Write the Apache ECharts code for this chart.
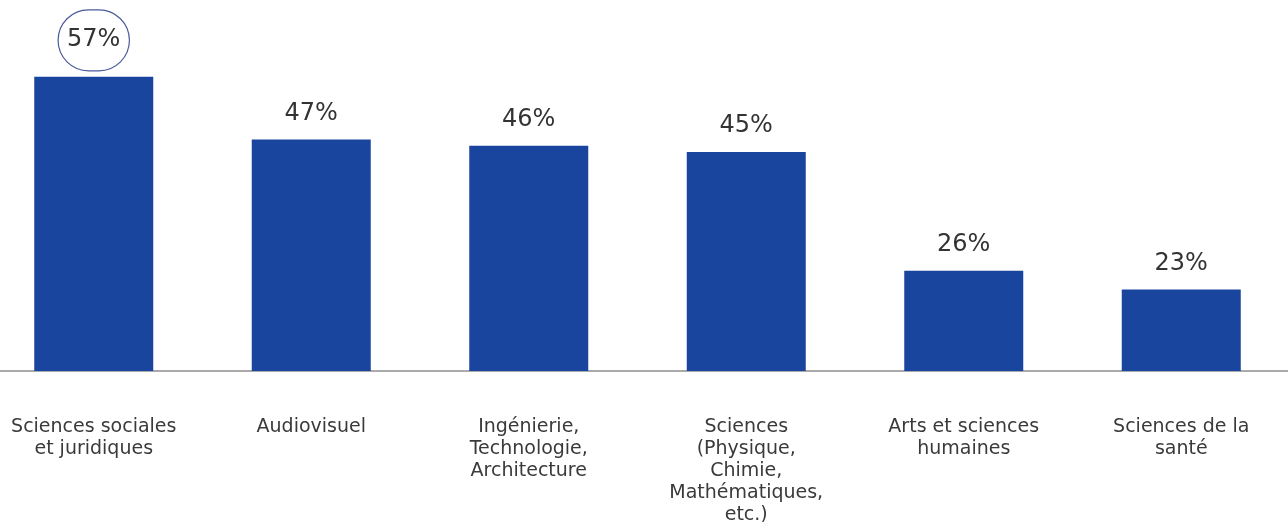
<!DOCTYPE html>
<html>
<head>
<meta charset="utf-8">
<script src="https://cdn.jsdelivr.net/npm/echarts@6/dist/echarts.min.js"></script>
<style>
  html, body { margin: 0; padding: 0; background: #fff; }
  #chart { width: 1288px; height: 522px; }
</style>
</head>
<body>
<div id="chart"></div>
<script>
const categories = [
  'Sciences sociales\net juridiques',
  'Audiovisuel',
  'Ingénierie,\nTechnologie,\nArchitecture',
  'Sciences\n(Physique,\nChimie,\nMathématiques,\netc.)',
  'Arts et sciences\nhumaines',
  'Sciences de la\nsanté'
]
const values = [57, 47, 46, 45, 26, 23]
// which bar gets the circled label
const highlighted = 0

const chart = echarts.init(document.getElementById('chart'), null, { renderer: 'canvas' })

const seriesData = values.map((v, i) => {
  if (i !== highlighted) return v
  return {
    value: v,
    label: {
      borderColor: '#4b5b9c',
      borderWidth: 1.2,
      borderRadius: 36,
      padding: [18, 9, 19, 9],
      distance: 6
    }
  }
})

chart.setOption({
  animation: false,
  grid: { left: -15, right: -2, top: 58, bottom: 151, outerBoundsMode: 'none', containLabel: false },
  xAxis: {
    type: 'category',
    data: categories,
    axisLine: { show: true, lineStyle: { color: '#8e8e8e', width: 1.5 } },
    axisTick: { show: false },
    axisLabel: {
      interval: 0,
      margin: 45,
      color: '#3a3a3a',
      fontFamily: 'DejaVu Sans',
      fontSize: 19,
      lineHeight: 22,
      align: 'center'
    }
  },
  yAxis: {
    type: 'value',
    min: 10,
    max: 60,
    show: false,
    splitLine: { show: false }
  },
  series: [
    {
      type: 'bar',
      data: seriesData,
      barWidth: 119,
      itemStyle: { color: '#1a459e' },
      label: {
        show: true,
        position: 'top',
        distance: 14,
        formatter: '{c}%',
        color: '#333',
        fontFamily: 'DejaVu Sans',
        fontSize: 24,
        lineHeight: 24
      }
    }
  ]
})
</script>
</body>
</html>
